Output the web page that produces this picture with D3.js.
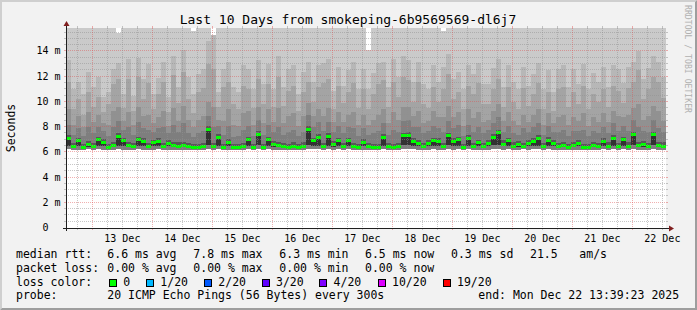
<!DOCTYPE html>
<html><head><meta charset="utf-8">
<script src="https://cdn.jsdelivr.net/npm/d3@7"></script>
<style>
html,body{margin:0;padding:0;background:#f2f2f2;}
svg{display:block;}
text{font-family:"DejaVu Sans Mono",monospace;white-space:pre;}
</style></head><body>
<svg id="chart" width="697" height="310"></svg>
<script>
// ---------------- data ----------------
const titleText = "Last 10 Days from smokeping-6b9569569-dl6j7";
const startTime = Date.UTC(2025, 11, 12, 13, 39, 23);
const endTime = Date.UTC(2025, 11, 22, 13, 39, 23);
const binHours = 2;
const yMaxMs = 15.86;
const yTicks = [0, 2, 4, 6, 8, 10, 12, 14];
const yTickLabels = ["0  ", "2 m", "4 m", "6 m", "8 m", "10 m", "12 m", "14 m"];
const xTickLabels = ["13 Dec","14 Dec","15 Dec","16 Dec","17 Dec","18 Dec","19 Dec","20 Dec","21 Dec","22 Dec"];

// median rtt (ms), one value per 2-hour bin; loss was 0 throughout
const med = [
7.10,6.45,6.90,6.40,6.60,6.45,7.00,6.80,6.40,6.55,7.25,6.90,
6.55,6.45,7.00,6.85,6.45,6.75,6.85,6.45,6.70,6.55,6.50,6.55,
6.45,6.35,6.35,6.45,7.80,6.45,7.20,6.40,6.80,6.35,6.40,6.45,
7.00,6.40,7.45,6.40,7.00,6.60,6.55,6.45,6.40,6.50,6.40,6.50,
7.80,6.90,7.20,6.45,7.25,6.60,6.90,6.45,6.90,6.45,6.40,6.80,
6.45,6.40,6.40,7.20,6.45,6.40,6.45,7.30,7.35,6.85,6.70,6.45,
6.70,6.90,6.85,6.45,7.30,6.85,7.00,6.40,7.10,6.45,6.75,6.45,
6.70,7.20,7.55,6.65,6.90,6.50,6.60,6.45,6.70,6.85,7.10,6.45,
6.95,6.70,6.45,6.55,6.40,6.55,6.70,6.40,6.40,6.55,6.45,6.85,
6.50,7.10,6.45,7.00,6.50,7.40,6.55,6.60,6.45,7.40,6.55,6.50];
const medLossLevel = 0;
// smoke: lowest ping
const lo = [
6.25,6.20,6.22,6.20,6.25,6.22,6.25,6.20,6.18,6.22,6.25,6.22,
6.22,6.20,6.25,6.22,6.20,6.22,6.25,6.20,6.22,6.20,6.20,6.22,
6.20,6.18,6.18,6.20,6.30,6.20,6.25,6.18,6.22,6.18,6.20,6.20,
6.25,6.18,6.25,6.20,6.25,6.20,6.22,6.20,6.18,6.20,6.18,6.20,
6.30,6.25,6.25,6.20,6.25,6.22,6.25,6.20,6.25,6.20,6.18,6.22,
6.20,6.18,6.18,6.25,6.20,6.18,6.20,6.25,6.28,6.30,6.22,6.20,
6.22,6.25,6.22,6.20,6.25,6.22,6.25,6.18,6.25,6.20,6.22,6.20,
6.22,6.25,6.30,6.22,6.25,6.20,6.22,6.30,6.22,6.25,6.30,6.20,
6.25,6.22,6.20,6.22,6.18,6.20,6.22,6.18,6.18,6.20,6.20,6.25,
6.20,6.25,6.20,6.25,6.20,6.28,6.22,6.22,6.20,6.28,6.22,6.20];
// smoke: 8th ping (lower edge of the dark core)
const p8 = [
6.50,6.38,6.50,6.33,6.45,6.38,6.50,6.50,6.33,6.45,6.50,6.50,
6.45,6.38,6.50,6.50,6.38,6.50,6.50,6.38,6.50,6.45,6.42,6.45,
6.38,6.30,6.30,6.38,6.55,6.38,6.50,6.33,6.50,6.30,6.33,6.38,
6.50,6.33,6.55,6.33,6.50,6.45,6.45,6.38,6.33,6.42,6.33,6.42,
6.55,6.50,6.50,6.38,6.50,6.45,6.50,6.38,6.50,6.38,6.33,6.50,
6.38,6.33,6.33,6.50,6.38,6.33,6.38,6.55,6.55,6.50,6.50,6.38,
6.50,6.50,6.50,6.38,6.55,6.50,6.50,6.33,6.50,6.38,6.50,6.38,
6.50,6.55,6.55,6.50,6.50,6.42,6.45,6.38,6.50,6.50,6.50,6.38,
6.50,6.50,6.38,6.45,6.33,6.45,6.50,6.33,6.33,6.45,6.38,6.50,
6.42,6.50,6.38,6.50,6.42,6.55,6.45,6.45,6.38,6.55,6.45,6.42];
// smoke: upper pings (11th, 13th, 15th .. 19th of 20)
const p11 = [
7.20,6.55,7.00,6.50,6.70,6.55,7.10,6.90,6.50,6.65,7.35,7.00,
6.65,6.55,7.10,6.95,6.55,6.85,6.95,6.55,6.80,6.65,6.60,6.65,
6.55,6.45,6.45,6.55,7.90,6.55,7.30,6.50,6.90,6.45,6.50,6.55,
7.10,6.50,7.55,6.50,7.10,6.70,6.65,6.55,6.50,6.60,6.50,6.60,
7.90,7.00,7.30,6.55,7.35,6.70,7.00,6.55,7.00,6.55,6.50,6.90,
6.55,6.50,6.50,7.30,6.55,6.50,6.55,7.40,7.45,6.95,6.80,6.55,
6.80,7.00,6.95,6.55,7.40,6.95,7.10,6.50,7.20,6.55,6.85,6.55,
6.80,7.30,7.65,6.75,7.00,6.60,6.70,6.55,6.80,6.95,7.20,6.55,
7.05,6.80,6.55,6.65,6.50,6.65,6.80,6.50,6.50,6.65,6.55,6.95,
6.60,7.20,6.55,7.10,6.60,7.50,6.65,6.70,6.55,7.50,6.65,6.60];
const p13 = [
7.35,6.75,7.15,6.70,6.90,6.75,7.25,7.05,6.70,6.85,7.50,7.15,
6.85,6.75,7.25,7.10,6.75,7.00,7.10,6.75,6.95,6.85,6.80,6.85,
6.75,6.65,6.65,6.75,8.05,6.75,7.45,6.70,7.05,6.65,6.70,6.75,
7.25,6.70,7.70,6.70,7.25,6.90,6.85,6.75,6.70,6.80,6.70,6.80,
8.05,7.15,7.45,6.75,7.50,6.90,7.15,6.75,7.15,6.75,6.70,7.05,
6.75,6.70,6.70,7.45,6.75,6.70,6.75,7.55,7.60,7.10,6.95,6.75,
6.95,7.15,7.10,6.75,7.55,7.10,7.25,6.70,7.35,6.75,7.00,6.75,
6.95,7.45,7.80,6.95,7.15,6.80,6.90,6.75,6.95,7.10,7.35,6.75,
7.20,6.95,6.75,6.85,6.70,6.85,6.95,6.70,6.70,6.85,6.75,7.10,
6.80,7.35,6.75,7.25,6.80,7.65,6.85,6.90,6.75,7.65,6.85,6.80];
const p15 = [
8.2,7.4,7.9,7.3,8.0,7.5,8.0,7.7,7.3,8.0,8.5,7.8,
8.0,7.4,8.4,7.9,7.8,7.6,7.9,8.0,7.5,8.2,7.6,8.3,
7.5,7.2,7.5,7.7,8.9,8.0,8.1,7.4,8.1,7.2,7.3,7.8,
8.1,7.3,8.6,7.4,8.2,7.6,8.0,7.4,7.6,7.8,7.3,7.6,
9.0,8.0,8.4,7.7,8.4,7.6,8.1,7.5,8.0,7.9,7.3,7.9,
7.4,7.5,7.7,8.3,7.4,7.8,7.6,8.5,8.6,8.0,8.0,7.5,
7.7,8.1,7.9,7.6,8.5,7.9,8.2,7.3,8.2,7.6,8.0,7.5,
7.8,8.3,8.8,7.6,8.1,7.5,7.4,7.9,7.6,8.0,8.3,7.4,
8.1,7.6,7.6,7.8,7.3,7.7,7.7,7.8,7.3,7.7,7.5,8.0,
7.5,8.3,7.7,8.1,7.7,8.6,8.0,7.7,7.6,8.6,7.9,7.6];
const p16 = [
9.4,8.2,8.9,8.0,9.2,8.4,9.0,8.3,8.2,9.3,9.6,8.5,
9.2,8.2,9.6,8.9,9.0,8.3,8.8,9.3,8.1,9.5,8.5,9.7,
8.6,8.0,8.6,8.9,10.0,9.6,8.6,8.5,9.4,8.2,8.1,9.1,
9.3,8.2,9.6,8.3,9.4,8.4,9.5,8.3,8.9,9.1,8.1,8.9,
9.9,8.9,9.4,8.9,9.5,8.4,9.2,8.4,9.0,9.2,8.2,9.0,
8.2,8.6,9.0,9.4,8.3,9.2,8.6,9.6,9.6,8.9,9.3,8.3,
8.5,9.3,8.8,8.8,9.7,8.8,9.2,8.1,9.4,8.7,9.2,8.4,
8.6,9.3,9.8,8.5,9.2,8.5,8.2,9.0,8.4,9.0,9.4,8.2,
9.1,8.3,8.8,9.0,8.2,8.8,8.5,9.1,8.1,8.8,8.4,9.1,
8.4,9.3,8.9,8.8,9.0,9.5,9.8,8.6,8.9,9.7,9.3,8.5];
const p17 = [
11.6,9.4,10.2,9.0,10.8,9.6,10.4,9.2,9.8,11.4,11.8,9.5,
11.8,9.3,12.0,10.2,11.5,9.4,10.6,11.6,9.2,12.1,9.9,12.4,
10.2,9.1,10.8,11.1,13.0,12.6,9.6,11.2,11.6,9.8,9.4,11.3,
11.0,9.5,11.8,9.8,11.4,9.6,12.0,9.7,10.9,11.3,9.3,10.8,
11.6,10.0,11.2,11.5,11.8,9.4,11.3,9.9,10.8,11.5,9.5,11.0,
9.4,10.6,11.4,11.7,9.6,11.6,10.4,12.0,11.7,10.0,11.6,9.8,
9.5,11.2,10.0,11.0,12.2,10.2,10.8,9.4,11.3,10.6,11.5,9.8,
9.8,11.0,11.8,9.6,11.2,10.0,9.4,11.1,9.7,10.6,11.5,9.4,
10.8,9.3,11.0,11.2,9.6,10.8,9.8,11.3,9.4,10.6,10.0,11.0,
9.6,11.3,10.9,9.9,11.1,11.6,12.5,10.2,11.0,12.0,11.6,10.3];
const p18 = [
13.3,11.0,11.6,10.6,12.4,11.2,12.0,10.4,10.8,12.6,13.1,10.6,
13.4,10.5,13.5,11.8,13.0,10.6,11.9,13.2,10.4,13.6,11.2,14.1,
12.0,10.6,12.2,12.6,14.8,15.3,10.8,12.6,13.2,11.2,10.8,12.9,
12.6,11.0,13.3,11.4,13.0,11.0,13.6,11.2,12.6,12.9,10.6,12.4,
13.2,11.6,12.9,13.1,13.4,10.9,12.8,11.3,12.5,13.2,11.0,12.6,
11.0,12.3,13.1,13.2,11.2,13.4,12.0,13.6,13.3,11.6,13.2,11.4,
11.0,12.9,11.6,12.8,13.8,11.8,12.4,11.0,12.9,12.2,13.1,11.4,
11.4,12.7,13.4,11.2,12.9,11.6,11.0,12.8,11.3,12.2,13.1,11.0,
12.5,10.8,12.6,12.9,11.2,12.6,11.4,13.0,11.0,12.3,11.6,12.8,
11.2,12.9,12.6,11.5,12.8,13.2,14.0,11.8,12.7,13.6,13.2,12.0];
const p19 = [
17,17,17,17,17,17,17,17,17,17,15.5,17,
17,17,17,17,17,17,17,17,17,17,17,17,
17,15.6,17,17,17,15.2,17,17,17,17,17,17,
17,17,17,17,17,17,17,17,17,17,17,17,
17,17,17,17,17,17,17,17,17,17,17,17,
14.1,17,17,17,17,17,17,17,17,17,17,17,
17,17,17,15.6,17,17,17,17,17,17,17,17,
17,17,17,17,17,17,17,17,17,17,17,17,
17,17,17,17,17,17,17,17,17,17,17,17,
17,17,17,17,17,17,17,17,17,17,17,17];

const lossLabels = ["0", "1/20", "2/20", "3/20", "4/20", "10/20", "19/20"];
const lossColors = ["#00ff00", "#00b8ff", "#0059ff", "#5e00ff", "#7e00ff", "#dd00ff", "#ff0000"];
const statsRtt = ["6.6 ms avg", "7.8 ms max", "6.3 ms min", "6.5 ms now", "0.3 ms sd", "21.5", "am/s"];
const statsLoss = ["0.00 % avg", "0.00 % max", "0.00 % min", "0.00 % now"];
const probeText = "20 ICMP Echo Pings (56 Bytes) every 300s";
const endText = "end: Mon Dec 22 13:39:23 2025";

// ---------------- layout ----------------
const W = 697, H = 310;
const X0 = 66, X1 = 666, Y0 = 228, Y1 = 28;
const svg = d3.select("#chart");

svg.append("rect").attr("width", W).attr("height", H).attr("fill", "#f2f2f2");
svg.append("polygon").attr("points", `0,${H} 2,${H-2} 2,2 ${W-2},2 ${W},0 0,0`).attr("fill", "#cfcfcf");
svg.append("polygon").attr("points", `2,${H-2} ${W-2},${H-2} ${W-2},2 ${W},0 ${W},${H} 0,${H}`).attr("fill", "#9e9e9e");

const x = d3.scaleUtc().domain([startTime, endTime]).range([X0, X1]);
const y = d3.scaleLinear().domain([0, yMaxMs]).range([Y0, Y1]);

svg.append("defs").append("clipPath").attr("id", "plotclip")
  .append("rect").attr("x", X0).attr("y", Y1).attr("width", X1 - X0).attr("height", Y0 - Y1);

svg.append("rect").attr("x", X0).attr("y", Y1).attr("width", X1 - X0).attr("height", Y0 - Y1).attr("fill", "#ffffff");

const plot = svg.append("g").attr("clip-path", "url(#plotclip)");
const binTime = i => startTime + i * binHours * 3600e3;
const idx = d3.range(med.length + 1);
const at = (arr, i) => arr[Math.min(i, arr.length - 1)];

const layers = [
  [lo, p19, "#cacaca"], [lo, p18, "#b7b7b7"], [lo, p17, "#a4a4a4"], [lo, p16, "#919191"],
  [lo, p15, "#7e7e7e"], [p8, p13, "#585858"], [p8, p11, "#323232"]
];
layers.forEach(([bot, top, col]) => {
  const area = d3.area()
    .x(i => x(binTime(i)))
    .y0(i => y(at(bot, i)))
    .y1(i => y(at(top, i)))
    .curve(d3.curveStepAfter);
  plot.append("path").attr("d", area(idx)).attr("fill", col).attr("shape-rendering", "crispEdges");
});

// median band (coloured by loss)
const pxMs = yMaxMs / (Y0 - Y1);
plot.selectAll("rect.med").data(d3.range(med.length)).enter().append("rect")
  .attr("class", "med")
  .attr("x", i => x(binTime(i)))
  .attr("width", i => x(binTime(i + 1)) - x(binTime(i)))
  .attr("y", i => y(med[i] + 1.5 * pxMs))
  .attr("height", i => y(med[i] - 1.5 * pxMs) - y(med[i] + 1.5 * pxMs))
  .attr("fill", lossColors[medLossLevel])
  .attr("shape-rendering", "crispEdges");

// ---------------- grid ----------------
const gMinor = "rgba(143,143,143,0.5)", gMajor = "rgba(222,79,79,0.45)";
const grid = svg.append("g").attr("shape-rendering", "crispEdges");
function hline(v, col) {
  const yy = Math.round(y(v)) - 0.5;
  grid.append("line").attr("x1", X0).attr("x2", X1).attr("y1", yy).attr("y2", yy)
    .attr("stroke", col).attr("stroke-dasharray", "1,1");
  grid.append("line").attr("x1", X0 - 2).attr("x2", X0).attr("y1", yy).attr("y2", yy).attr("stroke", col);
  grid.append("line").attr("x1", X1).attr("x2", X1 + 2).attr("y1", yy).attr("y2", yy).attr("stroke", col);
}
function vline(t, col) {
  const xx = Math.round(x(t)) + 0.5;
  grid.append("line").attr("x1", xx).attr("x2", xx).attr("y1", Y1).attr("y2", Y0)
    .attr("stroke", col).attr("stroke-dasharray", "1,1");
  grid.append("line").attr("x1", xx).attr("x2", xx).attr("y1", Y1 - 2).attr("y2", Y1).attr("stroke", col);
  grid.append("line").attr("x1", xx).attr("x2", xx).attr("y1", Y0).attr("y2", Y0 + 2).attr("stroke", col);
}
d3.range(0.5, yMaxMs, 0.5).filter(v => v % 2 !== 0).forEach(v => hline(v, gMinor));
yTicks.filter(v => v > 0).forEach(v => hline(v, gMajor));
d3.utcHour.every(6).range(startTime, endTime).filter(t => t.getUTCHours() !== 0).forEach(t => vline(t, gMinor));
d3.utcDay.range(startTime, endTime).forEach(t => vline(t, gMajor));

// axes
const axisCol = "#1f1f1f", arrowCol = "#801f1f";
svg.append("line").attr("x1", X0 - 3).attr("x2", X1 + 4).attr("y1", Y0 + 0.5).attr("y2", Y0 + 0.5)
  .attr("stroke", axisCol).attr("shape-rendering", "crispEdges");
svg.append("line").attr("x1", X0 + 0.5).attr("x2", X0 + 0.5).attr("y1", Y0 + 3).attr("y2", Y1 - 4)
  .attr("stroke", axisCol).attr("shape-rendering", "crispEdges");
svg.append("polygon").attr("points", `${X1+3},${Y0-2.5} ${X1+8},${Y0+0.5} ${X1+3},${Y0+3.5}`).attr("fill", arrowCol);
svg.append("polygon").attr("points", `${X0-2.5},${Y1-2} ${X0+0.5},${Y1-7} ${X0+3.5},${Y1-2}`).attr("fill", arrowCol);

// y labels
svg.selectAll("text.ylab").data(yTicks).enter().append("text")
  .attr("class", "ylab").attr("x", 60.5).attr("y", v => Math.round(y(v)) + 3)
  .attr("text-anchor", "end").attr("font-size", "10px").attr("fill", "#000")
  .text((v, i) => yTickLabels[i]);

// x labels at noon
const noonTimes = d3.utcDay.range(startTime, endTime).map(t => d3.utcHour.offset(t, 12));
svg.selectAll("text.xlab").data(noonTimes).enter().append("text")
  .attr("class", "xlab").attr("x", t => x(t) + 0.5).attr("y", 241.5)
  .attr("text-anchor", "middle").attr("font-size", "10px").attr("fill", "#000")
  .text((t, i) => xTickLabels[i]);

// title
svg.append("text").attr("x", 348).attr("y", 24).attr("text-anchor", "middle")
  .attr("font-size", "13px").attr("fill", "#000").text(titleText);

// unit label
svg.append("text").attr("transform", `translate(14.5,${(Y0 + Y1) / 2}) rotate(-90)`)
  .attr("text-anchor", "middle").attr("font-size", "11.5px").attr("fill", "#000").text("Seconds");

// watermark
svg.append("text").attr("transform", "translate(684.5,5) rotate(90)")
  .attr("font-size", "8px").attr("textLength", 108).attr("lengthAdjust", "spacingAndGlyphs")
  .attr("fill", "#b0b0b0").text("RRDTOOL / TOBI OETIKER");

// legend
const lf = "11.5px";
const L1 = 258.3, L2 = 272, L3 = 285.7, L4 = 299.4;
const leg = svg.append("g").attr("font-size", lf).attr("fill", "#000");
leg.append("text").attr("x", 16).attr("y", L1).text("median rtt:");
const rttX = [107.3, 193.3, 279.3, 365, 451, 530, 579.3];
statsRtt.forEach((s, i) => leg.append("text").attr("x", rttX[i]).attr("y", L1).text(s));
leg.append("text").attr("x", 16).attr("y", L2).text("packet loss:");
statsLoss.forEach((s, i) => leg.append("text").attr("x", rttX[i]).attr("y", L2).text(s));
leg.append("text").attr("x", 16).attr("y", L3).text("loss color:");
const boxX = [109, 146, 204, 261.7, 319.3, 377.7, 442.7];
lossLabels.forEach((s, i) => {
  leg.append("rect").attr("x", Math.round(boxX[i]) + 0.5).attr("y", 279.5).attr("width", 7).attr("height", 7)
    .attr("fill", lossColors[i]).attr("stroke", "#000").attr("stroke-width", 1).attr("shape-rendering", "crispEdges");
  leg.append("text").attr("x", boxX[i] + 14.3).attr("y", L3).text(s);
});
leg.append("text").attr("x", 16).attr("y", L4).text("probe:");
leg.append("text").attr("x", 107.3).attr("y", L4).text(probeText);
leg.append("text").attr("x", 478.3).attr("y", L4).text(endText);
</script>
</body></html>
